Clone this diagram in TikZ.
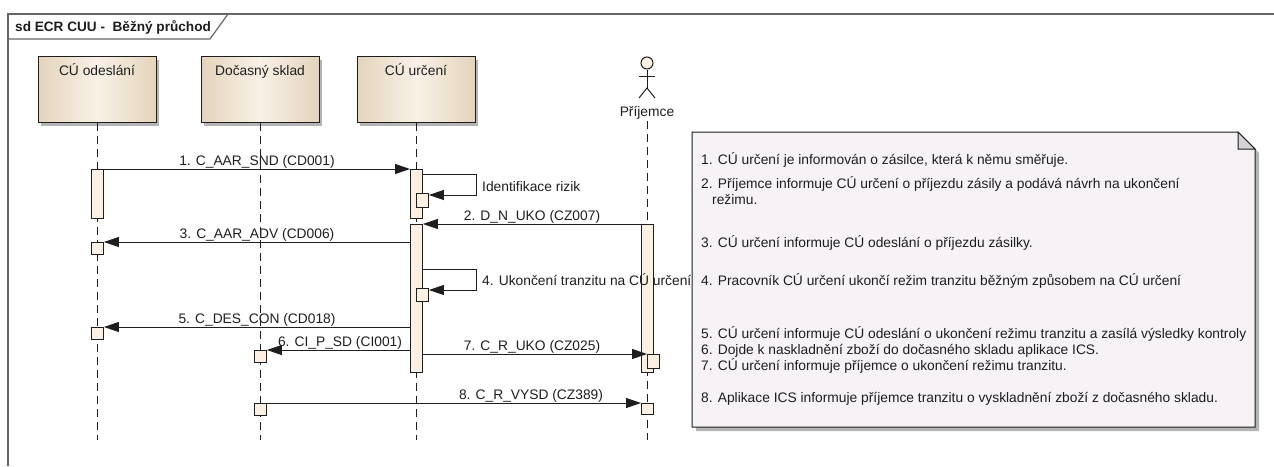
\documentclass[tikz,border=0pt]{standalone}
\usepackage{fontspec}
\setmainfont{Liberation Sans}
\usetikzlibrary{arrows.meta,shadows}
\definecolor{headL}{HTML}{E4D3BB}
\definecolor{headM}{HTML}{F8F1E7}
\definecolor{actfill}{HTML}{FBF0E1}
\definecolor{notefill}{HTML}{F6F2F6}
\definecolor{foldfill}{HTML}{D4D2D4}
\definecolor{shadowc}{HTML}{B4B4B4}
\definecolor{framec}{HTML}{666666}
\definecolor{linec}{HTML}{1E1E1E}
\begin{document}
\begin{tikzpicture}[x=1pt,y=-1pt,
  every node/.style={font=\fontsize{13.8}{16}\selectfont, inner sep=0pt, text=linec},
  head/.style={draw=linec, line width=1pt, left color=headL, right color=headL, middle color=headM,
    minimum width=118pt, minimum height=66pt, anchor=north,
    drop shadow={shadow xshift=3pt, shadow yshift=-3pt, fill=shadowc, opacity=1}},
  act/.style={draw=linec, line width=0.9pt, fill=actfill, minimum width=12pt, anchor=north west},
  lifeline/.style={draw=linec, line width=1pt, dash pattern=on 8pt off 5pt},
  msg/.style={draw=linec, line width=1pt, -{Triangle[length=15pt,width=10pt]}},
  lbl/.style={anchor=base},
  selflbl/.style={anchor=base west},
  notetxt/.style={anchor=base west}
]
\useasboundingbox (0,0) rectangle (1274,466);
\fill[white] (0,0) rectangle (1274,466);

% frame
\draw[framec, line width=1.6pt] (1274,14) -- (8,14) -- (8,466);
\draw[framec, line width=1.2pt] (8,39) -- (210,39) -- (228,14);
\node[anchor=base west, font=\fontsize{13.6}{16}\selectfont\bfseries] (title) at (15,31) {sd ECR CUU -\ \ Běžný průchod};

% lifeline heads
\node[head] (HO) at (97,56) {};
\node[head] (HD) at (260,56) {};
\node[head] (HU) at (416,56) {};
\node[anchor=base] (tO) at (97,75) {CÚ odeslání};
\node[anchor=base] (tD) at (260,75) {Dočasný sklad};
\node[anchor=base] (tU) at (416,75) {CÚ určení};

% actor
\node[circle, draw=linec, line width=1pt, fill=actfill, minimum size=12pt] (PH) at (647,63) {};
\coordinate (hip) at (647,88);
\draw[linec, line width=1pt] (PH.south) -- (hip);
\draw[linec, line width=1pt] (639,76) -- (655,76);
\draw[linec, line width=1pt] (639,98) -- (hip) -- (655,98);
\node[anchor=base] (PR) at (647,116) {Příjemce};

% lifelines
\coordinate (bottom) at (0,440);
\draw[lifeline] (HO.south) -- (HO.south |- bottom);
\draw[lifeline] (HD.south) -- (HD.south |- bottom);
\draw[lifeline] (HU.south) -- (HU.south |- bottom);
\draw[lifeline] ([yshift=-2pt]PR.south) -- (PR.south |- bottom);

% activations
\node[act, minimum height=49pt] (OA1) at (91,169) {};
\node[act, minimum height=12pt] (OA2) at (91,242) {};
\node[act, minimum height=12pt] (OA3) at (91,327) {};
\node[act, minimum height=12pt] (DA1) at (254,350) {};
\node[act, minimum height=12pt] (DA2) at (254,403) {};
\node[act, minimum height=49pt] (UA1) at (410,169) {};
\node[act, minimum height=14pt] (UA1s) at (416,193) {};
\node[act, minimum height=148pt] (UA2) at (410,224) {};
\node[act, minimum height=13pt] (UA2s) at (416,288) {};
\node[act, minimum height=148pt] (PA1) at (641,224) {};
\node[act, minimum height=14pt] (PA1s) at (647,354) {};
\node[act, minimum height=11pt] (PA2) at (641,403) {};

% messages
\draw[msg] (OA1.north east) -- (UA1.north west);
\node[lbl] (L1) at (257,165) {1. C\_AAR\_SND (CD001)};

\draw[msg] ([yshift=-5pt]UA1.north east) -- ++(54,0) |- ([yshift=-2pt]UA1s.north east);
\node[selflbl] (LS1) at (482,191) {Identifikace rizik};

\draw[msg] (PA1.north west) -- (UA2.north east);
\node[lbl] (L2) at (532,220) {2. D\_N\_UKO (CZ007)};

\draw[msg] (UA2.west |- OA2.north) -- (OA2.north east);
\node[lbl] (L3) at (257,238) {3. C\_AAR\_ADV (CD006)};

\draw[msg] ([yshift=-45pt]UA2.north east) -- ++(54,0) |- ([yshift=-2pt]UA2s.north east);
\node[selflbl] (LS4) at (482,285) {4. Ukončení tranzitu na CÚ určení};

\draw[msg] (UA2.west |- OA3.north) -- (OA3.north east);
\node[lbl] (L5) at (257,323) {5. C\_DES\_CON (CD018)};

\draw[msg] (UA2.west |- DA1.north) -- (DA1.north east);
\node[lbl] (L6) at (340,346) {6. CI\_P\_SD (CI001)};

\draw[msg] (UA2.east |- PA1s.north) -- (PA1s.north west);
\node[lbl] (L7) at (532,350) {7. C\_R\_UKO (CZ025)};

\draw[msg] (DA2.north east) -- (PA2.north west);
\node[lbl] (L8) at (531,399) {8. C\_R\_VYSD (CZ389)};

% note
\fill[shadowc] (696,136) -- (1242,136) -- (1259,153) -- (1259,431) -- (696,431) -- cycle;
\filldraw[fill=notefill, draw=linec, line width=1pt] (692,132) coordinate (N) -- (1238,132) -- (1255,149) -- (1255,427) -- (692,427) -- cycle;
\filldraw[fill=foldfill, draw=linec, line width=1pt] (1238,132) -- (1238,149) -- (1255,149) -- cycle;
\node[notetxt] (n1) at (701,164) {1. CÚ určení je informován o zásilce, která k němu směřuje.};
\node[notetxt] (n2) at (701,188) {2. Příjemce informuje CÚ určení o příjezdu zásily a podává návrh na ukončení};
\node[notetxt] (n2b) at (701,204) {\hspace*{11pt}režimu.};
\node[notetxt] (n3) at (701,247) {3. CÚ určení informuje CÚ odeslání o příjezdu zásilky.};
\node[notetxt] (n4) at (701,285) {4. Pracovník CÚ určení ukončí režim tranzitu běžným způsobem na CÚ určení};
\node[notetxt] (n5) at (701,338) {5. CÚ určení informuje CÚ odeslání o ukončení režimu tranzitu a zasílá výsledky kontroly};
\node[notetxt] (n6) at (701,354) {6. Dojde k naskladnění zboží do dočasného skladu aplikace ICS.};
\node[notetxt] (n7) at (701,370) {7. CÚ určení informuje příjemce o ukončení režimu tranzitu.};
\node[notetxt] (n8) at (701,402) {8. Aplikace ICS informuje příjemce tranzitu o vyskladnění zboží z dočasného skladu.};
\end{tikzpicture}
\end{document}
